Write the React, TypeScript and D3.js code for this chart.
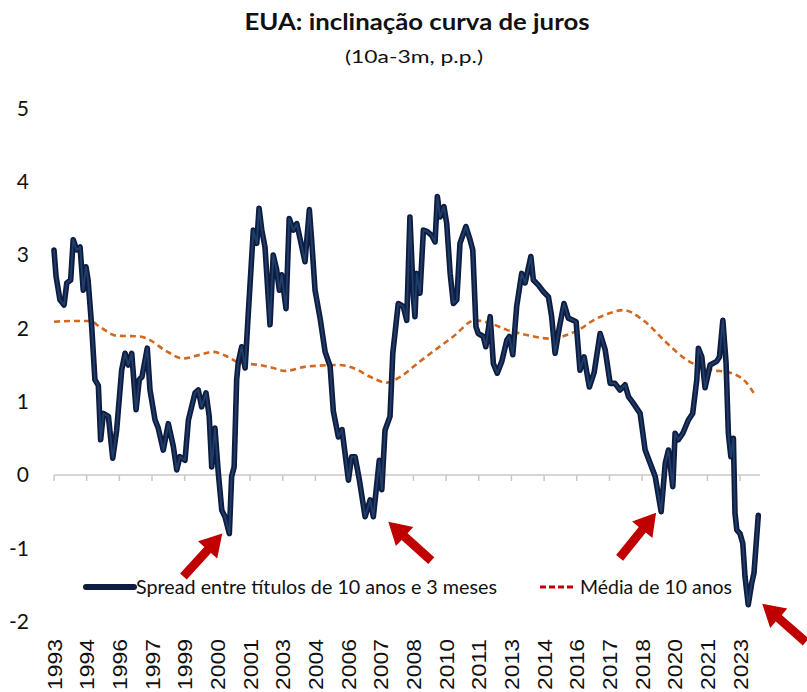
import React from "react";
import * as d3 from "d3";

// ---- data ----
const spreadYears = [
  1993.0, 1993.09, 1993.26, 1993.44, 1993.56, 1993.73, 1993.84, 1993.99, 1994.14, 1994.28,
  1994.4, 1994.49, 1994.65, 1994.79, 1994.94, 1995.04, 1995.16, 1995.38, 1995.57, 1995.74,
  1995.96, 1996.11, 1996.25, 1996.4, 1996.59, 1996.73, 1996.85, 1997.08, 1997.2, 1997.42,
  1997.56, 1997.78, 1998.0, 1998.22, 1998.37, 1998.51, 1998.73, 1998.88, 1999.17, 1999.31,
  1999.46, 1999.65, 1999.79, 1999.9, 2000.04, 2000.19, 2000.34, 2000.48, 2000.67, 2000.77,
  2000.88, 2000.99, 2001.06, 2001.21, 2001.36, 2001.5, 2001.72, 2001.87, 2001.97, 2002.09,
  2002.23, 2002.45, 2002.59, 2002.74, 2002.86, 2002.96, 2003.15, 2003.29, 2003.47, 2003.62,
  2003.76, 2003.98, 2004.17, 2004.27, 2004.42, 2004.64, 2004.86, 2005.08, 2005.22, 2005.44,
  2005.6, 2005.88, 2006.02, 2006.17, 2006.36, 2006.61, 2006.83, 2006.97, 2007.23, 2007.34,
  2007.48, 2007.7, 2007.82, 2008.06, 2008.28, 2008.43, 2008.57, 2008.72, 2008.79, 2008.87,
  2009.01, 2009.16, 2009.33, 2009.52, 2009.67, 2009.77, 2009.89, 2010.06, 2010.18, 2010.33,
  2010.47, 2010.62, 2010.76, 2011.02, 2011.2, 2011.32, 2011.46, 2011.56, 2011.78, 2011.89,
  2012.08, 2012.22, 2012.39, 2012.59, 2012.81, 2012.92, 2013.07, 2013.24, 2013.46, 2013.61,
  2013.86, 2013.97, 2014.19, 2014.41, 2014.63, 2014.77, 2014.92, 2015.11, 2015.31, 2015.5,
  2015.84, 2016.01, 2016.19, 2016.42, 2016.63, 2016.89, 2017.11, 2017.33, 2017.54, 2017.76,
  2017.98, 2018.13, 2018.34, 2018.64, 2018.86, 2019.08, 2019.3, 2019.56, 2019.74, 2019.88,
  2020.07, 2020.17, 2020.31, 2020.51, 2020.75, 2020.94, 2021.12, 2021.19, 2021.34, 2021.48,
  2021.7, 2021.99, 2022.11, 2022.26, 2022.4, 2022.5, 2022.61, 2022.72, 2022.79, 2022.87,
  2023.01, 2023.13, 2023.23, 2023.37, 2023.52, 2023.62, 2023.81,
];
const spreadValues = [
  3.07, 2.71, 2.39, 2.32, 2.62, 2.66, 3.21, 3.07, 3.11, 2.52,
  2.84, 2.66, 2.02, 1.3, 1.22, 0.48, 0.84, 0.8, 0.23, 0.61,
  1.43, 1.66, 1.5, 1.66, 0.89, 1.3, 1.34, 1.73, 1.16, 0.75,
  0.64, 0.34, 0.7, 0.39, 0.07, 0.25, 0.2, 0.75, 1.12, 1.16,
  0.93, 1.12, 0.8, 0.11, 0.64, 0.02, -0.48, -0.57, -0.8, -0.02,
  0.11, 1.3, 1.53, 1.75, 1.46, 2.21, 3.34, 3.16, 3.64, 3.34,
  3.11, 2.05, 3.0, 2.8, 2.52, 2.73, 2.27, 3.5, 3.34, 3.43,
  3.23, 2.91, 3.62, 3.21, 2.52, 2.14, 1.68, 1.48, 0.87, 0.52,
  0.62, -0.07, 0.25, 0.25, -0.07, -0.57, -0.34, -0.57, 0.2, -0.2,
  0.61, 0.8, 1.66, 2.34, 2.3, 2.11, 3.52, 2.43, 2.16, 2.75,
  2.48, 3.34, 3.32, 3.27, 3.18, 3.8, 3.52, 3.66, 3.43, 2.75,
  2.34, 2.39, 3.16, 3.39, 3.21, 3.07, 2.02, 1.93, 1.89, 1.75,
  2.16, 1.52, 1.39, 1.55, 1.84, 1.89, 1.64, 2.3, 2.75, 2.62,
  2.98, 2.66, 2.59, 2.5, 2.43, 2.16, 1.66, 2.02, 2.34, 2.14,
  2.09, 1.43, 1.61, 1.2, 1.4, 1.93, 1.71, 1.25, 1.25, 1.16,
  1.23, 1.07, 0.98, 0.84, 0.34, 0.16, -0.02, -0.5, 0.16, 0.34,
  -0.16, 0.57, 0.48, 0.57, 0.75, 0.84, 1.3, 1.73, 1.61, 1.19,
  1.5, 1.55, 1.61, 2.11, 1.53, 0.57, 0.25, 0.5, -0.52, -0.75,
  -0.8, -0.93, -1.39, -1.77, -1.48, -1.34, -0.55,
];

const avgYears = [
  1993.0, 1993.7, 1994.58, 1995.01, 1995.74, 1996.76, 1997.2, 1997.86, 1998.66, 1999.39,
  1999.97, 2000.48, 2001.14, 2002.01, 2002.59, 2003.1, 2004.06, 2005.51, 2006.17, 2006.83,
  2007.56, 2008.14, 2009.01, 2010.47, 2011.42, 2012.08, 2012.81, 2013.68, 2014.7, 2015.43,
  2016.01, 2016.59, 2017.33, 2017.91, 2018.78, 2019.81, 2020.68, 2021.56, 2022.72, 2023.23,
  2023.67,
];
const avgValues = [
  2.09, 2.1, 2.1, 2.02, 1.9, 1.89, 1.84, 1.7, 1.59, 1.64,
  1.68, 1.63, 1.53, 1.5, 1.46, 1.42, 1.48, 1.5, 1.45, 1.34,
  1.26, 1.34, 1.55, 1.89, 2.11, 2.07, 1.98, 1.91, 1.86, 1.91,
  1.99, 2.11, 2.21, 2.25, 2.11, 1.8, 1.57, 1.45, 1.38, 1.28,
  1.09,
];

const xTickLabels = [
  "1993", "1994", "1996", "1997", "1999", "2000", "2001", "2003", "2004", "2006", "2007",
  "2008", "2010", "2011", "2013", "2014", "2016", "2017", "2018", "2020", "2021", "2023",
];
const yTicks = [5, 4, 3, 2, 1, 0, -1, -2];

// inversion lows pointed at by arrows
const arrowYears = [2000.67, 2006.97, 2019.56, 2023.37];
const arrowValues = [-0.8, -0.57, -0.5, -1.77];

const TITLE = "EUA: inclinação curva de juros";
const SUBTITLE = "(10a-3m, p.p.)";
const LEGEND_SPREAD = "Spread entre títulos de 10 anos e 3 meses";
const LEGEND_AVG = "Média de 10 anos";

const W = 807;
const H = 692;
const NAVY = "#0f1c42";
const ORANGE = "#d2691e";
const RED = "#c00000";

export default function App() {
  const x = d3.scaleLinear().domain([1993.0, 2023.81]).range([54, 758.3]);
  const y = d3.scaleLinear().domain([-2, 5]).range([621.6, 108.5]);

  const spreadData = spreadYears.map((t, i) => [t, spreadValues[i]] as [number, number]);
  const avgData = avgYears.map((t, i) => [t, avgValues[i]] as [number, number]);

  const spreadLine = d3
    .line<[number, number]>()
    .x((d) => x(d[0]))
    .y((d) => y(d[1]))
    .curve(d3.curveLinear);
  const avgLine = d3
    .line<[number, number]>()
    .x((d) => x(d[0]))
    .y((d) => y(d[1]))
    .curve(d3.curveMonotoneX);

  const tickStep = 1.4293;
  const tickVals = xTickLabels.map((_, i) => 1993 + i * tickStep);

  // arrow geometry: [tip offset dx, dy, direction to tail ux, uy]
  const arrowStyle = [
    [-7, 0, -0.67, 0.74],
    [15, 5, 0.74, 0.67],
    [-5, 1, -0.63, 0.78],
    [14, -1, 0.75, 0.66],
  ];
  const arrowPath = (tx: number, ty: number, ux: number, uy: number) => {
    const L = 58, h = 22, Hh = 13, w = 4.5;
    const nx = -uy, ny = ux;
    const p = (a: number, b: number) => [tx + ux * a + nx * b, ty + uy * a + ny * b];
    const pts = [p(0, 0), p(h, Hh), p(h, w), p(L, w), p(L, -w), p(h, -w), p(h, -Hh)];
    return "M" + pts.map((q) => q[0].toFixed(1) + "," + q[1].toFixed(1)).join("L") + "Z";
  };

  const font = "Lato, 'Open Sans', sans-serif";

  return (
    <svg
      width={W}
      height={H}
      style={{ position: "absolute", left: 0, top: 0, background: "#fff" }}
    >
      <rect x={0} y={0} width={W} height={H} fill="#fff" />
      {/* title */}
      <text
        x={417}
        y={30}
        textAnchor="middle"
        fontFamily={font}
        fontWeight={700}
        fontSize={23}
        fill="#111"
        textLength={345}
        lengthAdjust="spacingAndGlyphs"
      >
        {TITLE}
      </text>
      <text
        x={414}
        y={63}
        textAnchor="middle"
        fontFamily={font}
        fontSize={18}
        fill="#111"
        textLength={138}
        lengthAdjust="spacingAndGlyphs"
      >
        {SUBTITLE}
      </text>

      {/* y labels */}
      {yTicks.map((v) => (
        <text
          key={v}
          x={29}
          y={y(v)}
          dy="0.35em"
          textAnchor="end"
          fontFamily={font}
          fontSize={21}
          fill="#111"
        >
          {v}
        </text>
      ))}

      {/* x axis line at zero */}
      <line x1={x.range()[0]} x2={760} y1={y(0)} y2={y(0)} stroke="#c8c8c8" strokeWidth={1.5} />
      {tickVals.map((t, i) => (
        <line key={i} x1={x(t)} x2={x(t)} y1={y(0)} y2={y(0) + 6} stroke="#c8c8c8" strokeWidth={1.5} />
      ))}

      {/* x labels rotated */}
      {tickVals.map((t, i) => (
        <text
          key={i}
          transform={`translate(${x(t)},${639}) rotate(-90)`}
          dy="0.36em"
          textAnchor="end"
          fontFamily="'Liberation Sans', Arial, sans-serif"
          fontSize={21}
          fill="#111"
          textLength={51}
          lengthAdjust="spacingAndGlyphs"
        >
          {xTickLabels[i]}
        </text>
      ))}

      {/* average line */}
      <path
        d={avgLine(avgData) || ""}
        fill="none"
        stroke={ORANGE}
        strokeWidth={2.6}
        strokeDasharray="6,4"
      />

      {/* spread line */}
      <path
        d={spreadLine(spreadData) || ""}
        fill="none"
        stroke={NAVY}
        strokeWidth={5.6}
        strokeLinejoin="round"
        strokeLinecap="round"
      />
      <path
        d={spreadLine(spreadData) || ""}
        fill="none"
        stroke="#2f5f8e"
        strokeWidth={1.8}
        strokeOpacity={0.5}
        strokeLinejoin="round"
      />

      {/* legend */}
      <line x1={86} x2={134} y1={587} y2={587} stroke={NAVY} strokeWidth={6} strokeLinecap="round" />
      <text
        x={136}
        y={587}
        dy="0.35em"
        fontFamily={font}
        fontSize={19}
        fill="#111"
        textLength={361}
        lengthAdjust="spacingAndGlyphs"
      >
        {LEGEND_SPREAD}
      </text>
      <line x1={540} x2={576} y1={587} y2={587} stroke={RED} strokeWidth={3} strokeDasharray="6,3" />
      <text
        x={580}
        y={587}
        dy="0.35em"
        fontFamily={font}
        fontSize={19}
        fill="#111"
        textLength={152}
        lengthAdjust="spacingAndGlyphs"
      >
        {LEGEND_AVG}
      </text>

      {/* arrows */}
      {arrowYears.map((t, i) => {
        const [dx, dy, ux, uy] = arrowStyle[i];
        return (
          <path key={i} d={arrowPath(x(t) + dx, y(arrowValues[i]) + dy, ux, uy)} fill={RED} />
        );
      })}
    </svg>
  );
}
